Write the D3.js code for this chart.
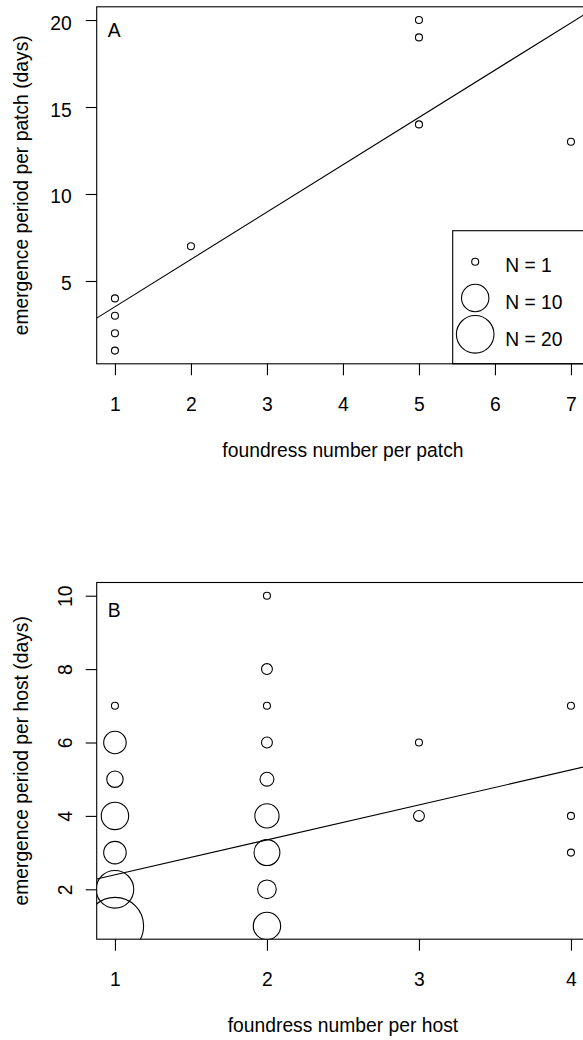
<!DOCTYPE html>
<html>
<head>
<meta charset="utf-8">
<script src="https://cdn.jsdelivr.net/npm/d3@7"></script>
<style>
  html, body { margin: 0; padding: 0; background: #fff; }
  svg { display: block; }
  text { font-family: "Liberation Sans", Arial, Helvetica, sans-serif; fill: #000; }
</style>
</head>
<body>
<script>
// ---------- data ----------
// Panel A: per patch
const patchX = [1, 1, 1, 1, 2, 5, 5, 5, 7];
const patchY = [1, 2, 3, 4, 7, 20, 19, 14, 13];
const patchN = [1, 1, 1, 1, 1, 1, 1, 1, 1];
const patchFit = [0.8, 2.72];          // intercept, slope
const patchXTicks = [1, 2, 3, 4, 5, 6, 7];
const patchYTicks = [5, 10, 15, 20];

// Panel B: per host
const hostX = [1, 1, 1, 1, 1, 1, 1, 2, 2, 2, 2, 2, 2, 2, 2, 2, 3, 3, 4, 4, 4];
const hostY = [7, 6, 5, 4, 3, 2, 1, 10, 8, 7, 6, 5, 4, 3, 2, 1, 6, 4, 7, 4, 3];
const hostN = [1, 7, 4, 10, 7, 20, 49, 1, 2, 1, 2, 3, 8, 9, 5, 10, 1, 2, 1, 1, 1];
const hostFit = [1.44, 0.953];         // intercept, slope
const hostXTicks = [1, 2, 3, 4];
const hostYTicks = [2, 4, 6, 8, 10];

// Legend
const legendN = [1, 10, 20];
const legendLabels = ["N = 1", "N = 10", "N = 20"];

// ---------- layout ----------
const W = 583, H = 1040;
const FS = 19.3;
const svg = d3.select("body").append("svg").attr("width", W).attr("height", H);

const rScale = d3.scaleSqrt().domain([1, 10, 20]).range([3.5, 13.7, 18.8]);

function extent4(v) {
  const [a, b] = d3.extent(v);
  const p = (b - a) * 0.04;
  return [a - p, b + p];
}

function panel(o) {
  const x = d3.scaleLinear().domain(extent4(o.xs)).range([o.left, o.right]);
  const y = d3.scaleLinear().domain(extent4(o.ys)).range([o.bottom, o.top]);
  const g = svg.append("g");
  const clipId = "clip" + o.id;
  svg.append("clipPath").attr("id", clipId)
    .append("rect").attr("x", o.left).attr("y", o.top)
    .attr("width", o.right - o.left).attr("height", o.bottom - o.top);

  const inner = g.append("g").attr("clip-path", `url(#${clipId})`);

  // regression line
  const [x0, x1] = x.domain();
  inner.append("line")
    .attr("x1", x(x0)).attr("y1", y(o.fit[0] + o.fit[1] * x0))
    .attr("x2", x(x1)).attr("y2", y(o.fit[0] + o.fit[1] * x1))
    .attr("stroke", "#000").attr("stroke-width", 1.1);

  // points
  inner.selectAll("circle.pt").data(o.xs.map((v, i) => ({ x: v, y: o.ys[i], n: o.ns[i] })))
    .join("circle").attr("class", "pt")
    .attr("cx", d => x(d.x)).attr("cy", d => y(d.y)).attr("r", d => rScale(d.n))
    .attr("fill", "none").attr("stroke", "#000").attr("stroke-width", 1.1);

  // box
  g.append("rect").attr("x", o.left).attr("y", o.top)
    .attr("width", o.right - o.left).attr("height", o.bottom - o.top)
    .attr("fill", "none").attr("stroke", "#000").attr("stroke-width", 1.1);

  // x axis
  const xa = g.append("g").attr("transform", `translate(0,${o.bottom})`)
    .call(d3.axisBottom(x).tickValues(o.xTicks).tickSize(11.5).tickPadding(33.3 - 11.5).tickFormat(d3.format("d")));
  xa.select(".domain").remove();
  xa.selectAll("line").attr("stroke", "#000").attr("stroke-width", 1.1);
  xa.selectAll("text").attr("font-size", FS).attr("font-family", null).attr("fill", "#000");
  xa.attr("font-size", null).attr("font-family", null);

  // y axis
  const ya = g.append("g").attr("transform", `translate(${o.left},0)`)
    .call(d3.axisLeft(y).tickValues(o.yTicks).tickSize(11).tickFormat(d3.format("d")));
  ya.select(".domain").remove();
  ya.selectAll("line").attr("stroke", "#000").attr("stroke-width", 1.1);
  ya.attr("font-size", null).attr("font-family", null);
  if (o.rotY) {
    ya.selectAll("text").attr("x", null).attr("dy", null)
      .attr("transform", "translate(-25,0) rotate(-90)")
      .attr("text-anchor", "middle").attr("font-size", FS).attr("fill", "#000");
  } else {
    ya.selectAll("text").attr("x", -25).attr("dy", 9)
      .attr("text-anchor", "end").attr("font-size", FS).attr("fill", "#000");
  }

  // titles
  g.append("text").attr("x", (o.left + o.right) / 2).attr("y", o.bottom + 93)
    .attr("text-anchor", "middle").attr("font-size", FS).text(o.xTitle);
  g.append("text").attr("transform", `translate(28,${(o.top + o.bottom) / 2}) rotate(-90)`)
    .attr("text-anchor", "middle").attr("font-size", FS).text(o.yTitle);
  g.append("text").attr("x", o.left + 11).attr("y", o.top + o.labelDy)
    .attr("font-size", FS).text(o.label);

  return { g, x, y };
}

const A = panel({
  id: "A", xs: patchX, ys: patchY, ns: patchN, fit: patchFit,
  left: 96.7, right: 589.2, top: 6.8, bottom: 363.8,
  xTicks: patchXTicks, yTicks: patchYTicks, rotY: false,
  xTitle: "foundress number per patch", yTitle: "emergence period per patch (days)",
  label: "A", labelDy: 30.5
});

const B = panel({
  id: "B", xs: hostX, ys: hostY, ns: hostN, fit: hostFit,
  left: 96.7, right: 589.2, top: 582.5, bottom: 939.2,
  xTicks: hostXTicks, yTicks: hostYTicks, rotY: true,
  xTitle: "foundress number per host", yTitle: "emergence period per host (days)",
  label: "B", labelDy: 34.8
});

// legend in panel A
const lg = A.g.append("g");
const lgLeft = 452.7, lgTop = 230.7;
lg.append("rect").attr("x", lgLeft).attr("y", lgTop)
  .attr("width", 200).attr("height", 363.8 - lgTop)
  .attr("fill", "none").attr("stroke", "#000").attr("stroke-width", 1.1);
const rows = lg.selectAll("g.row").data(legendN).join("g").attr("class", "row")
  .attr("transform", (d, i) => `translate(${lgLeft + 22.5},${lgTop + 31 + i * 36.3})`);
rows.append("circle").attr("r", d => rScale(d))
  .attr("fill", "none").attr("stroke", "#000").attr("stroke-width", 1.1);
rows.append("text").attr("x", 30).attr("y", (d, i) => 10 + i * 0.9)
  .attr("font-size", FS).text((d, i) => legendLabels[i]);
</script>
</body>
</html>
